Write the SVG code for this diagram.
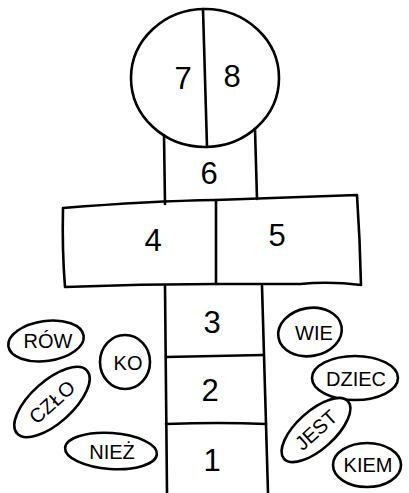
<svg xmlns="http://www.w3.org/2000/svg" width="409" height="493" viewBox="0 0 409 493">
<style>
.ln{fill:none;stroke:#000;stroke-width:2.6;stroke-linecap:round;stroke-linejoin:round}
.bub{fill:#fff;stroke:#000;stroke-width:2.6}
.num{font-family:"Liberation Sans","DejaVu Sans",sans-serif;font-size:31px;fill:#000;text-anchor:middle}
.syl{font-family:"Liberation Sans","DejaVu Sans",sans-serif;font-size:20px;fill:#000;text-anchor:middle}
</style>
<rect width="409" height="493" fill="#fff"/>
<g id="field-78">
<ellipse class="ln" cx="205" cy="78" rx="74" ry="69"/>
<path class="ln" d="M203,9 L207,147"/>
<text class="num" x="183" y="89">7</text>
<text class="num" x="232" y="87">8</text>
</g>
<g id="field-6">
<path class="ln" d="M164,135 L165,204 M255,129 L257,199"/>
<text class="num" x="209" y="184">6</text>
</g>
<g id="field-45">
<path class="ln" d="M63,208 Q150,201 216,200 L357,195 Q360,240 361,285 Q330,281 300,284 L216,284 Q140,284 65,287 Q62,250 63,208 Z"/>
<path class="ln" d="M216,200 L216,284"/>
<text class="num" x="153" y="251">4</text>
<text class="num" x="277" y="246">5</text>
</g>
<g id="field-3">
<path class="ln" d="M165,286 L167,493 M262,286 L268,493"/>
<path class="ln" d="M166,357 L263,355"/>
<text class="num" x="212" y="333">3</text>
</g>
<g id="field-2">
<path class="ln" d="M166,424 Q220,422 266,424"/>
<text class="num" x="210" y="401">2</text>
</g>
<g id="field-1">
<text class="num" x="212" y="471">1</text>
</g>
<g id="syl-row">
<ellipse class="bub" cx="46" cy="341" rx="38" ry="20" transform="rotate(-8 46 341)"/>
<text class="syl" x="48" y="348">RÓW</text>
</g>
<g id="syl-ko">
<ellipse class="bub" cx="125" cy="362" rx="25" ry="27"/>
<text class="syl" x="128" y="370">KO</text>
</g>
<g id="syl-czlo">
<ellipse class="bub" cx="52" cy="402" rx="47" ry="21" transform="rotate(-42 52 402)"/>
<text class="syl" x="52" y="409" transform="rotate(-42 52 402)">CZŁO</text>
</g>
<g id="syl-niez">
<ellipse class="bub" cx="111" cy="451" rx="46" ry="18" transform="rotate(4 111 451)"/>
<text class="syl" x="112" y="459">NIEŻ</text>
</g>
<g id="syl-wie">
<ellipse class="bub" cx="310" cy="332" rx="32" ry="24" transform="rotate(-10 310 332)"/>
<text class="syl" x="314" y="340">WIE</text>
</g>
<g id="syl-dziec">
<ellipse class="bub" cx="355" cy="378" rx="43" ry="22"/>
<text class="syl" x="356" y="386">DZIEC</text>
</g>
<g id="syl-jest">
<ellipse class="bub" cx="316" cy="430" rx="43" ry="19" transform="rotate(-42 316 430)"/>
<text class="syl" x="316" y="437" transform="rotate(-42 316 430)">JEST</text>
</g>
<g id="syl-kiem">
<ellipse class="bub" cx="367" cy="465" rx="34" ry="22"/>
<text class="syl" x="368" y="472">KIEM</text>
</g>
<g id="connectors"/>
</svg>
